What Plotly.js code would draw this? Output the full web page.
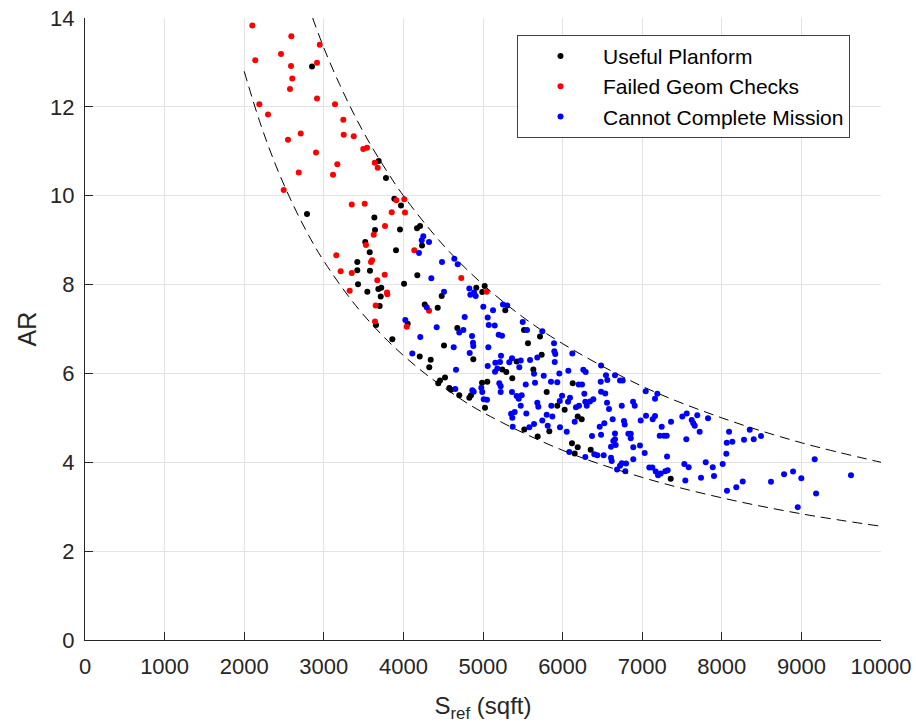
<!DOCTYPE html>
<html>
<head>
<meta charset="utf-8">
<script src="https://cdn.plot.ly/plotly-3.0.1.min.js"></script>
<style>
  html, body { margin: 0; padding: 0; background: #ffffff; }
  #chart { width: 916px; height: 723px; }
</style>
</head>
<body>
<div id="chart"></div>
<script>
// Planform sweep: reference area vs aspect ratio, coloured by outcome.

// Useful planforms
const usefulS = [2852, 3690, 3781, 2789, 3886, 3970, 3635, 3957, 3643, 4171, 4209, 3521, 4234, 3907, 3577,
  3421, 3421, 3580, 4175, 3430, 4008, 3547, 3685, 3722, 3715, 4481, 3702, 4268, 4431, 3656, 4054, 3861,
  4916, 5021, 4991, 5280, 4677, 5515, 5716, 4205, 4343, 4325, 4510, 4878, 5565, 5737, 5243, 5293, 5423,
  5632, 4523, 4460, 4438, 4577, 4598, 4702, 4828, 4849, 4988, 5054, 5025, 5368, 5800, 5519, 6127, 5933,
  6026, 6190, 6240, 5687, 5833, 6118, 6190, 6152, 6353, 7358];
const usefulAR = [12.91, 10.78, 10.40, 9.59, 9.93, 9.78, 9.51, 9.24, 9.23, 9.27, 9.32, 8.96, 8.88, 8.77, 8.73,
  8.51, 8.32, 8.31, 8.21, 8.01, 8.02, 7.84, 7.90, 7.93, 7.73, 7.74, 7.52, 7.55, 7.48, 7.09, 7.12, 6.77,
  7.93, 7.97, 7.83, 7.42, 7.02, 6.98, 6.83, 6.38, 6.31, 6.14, 6.63, 6.32, 6.68, 6.42, 6.09, 6.03, 6.27,
  6.09, 5.91, 5.84, 5.78, 5.67, 5.63, 5.51, 5.45, 5.51, 5.79, 5.81, 5.23, 5.89, 5.58, 4.74, 5.78, 5.27,
  5.18, 5.03, 4.97, 4.58, 4.70, 4.43, 4.34, 4.20, 4.28, 3.63];

// Planforms that failed the geometry checks
const failedS = [2102, 2592, 2949, 2139, 2462, 2588, 2915, 2604, 2575, 2915, 2190, 3141, 2299, 3245, 2710,
  3250, 3376, 2550, 3496, 3543, 2902, 3640, 3677, 3170, 2685, 3116, 2496, 3351, 3514, 3911, 4011, 3853,
  4020, 3769, 3627, 3530, 4137, 3157, 3606, 3593, 3212, 3351, 3765, 3672, 3325, 3794, 3798, 3652, 4322,
  3643, 4042, 4727, 5047];
const failedAR = [13.83, 13.59, 13.40, 13.05, 13.19, 12.92, 12.99, 12.64, 12.40, 12.19, 12.06, 12.06, 11.83, 11.71, 11.40,
  11.37, 11.34, 11.26, 11.05, 11.08, 10.97, 10.74, 10.63, 10.71, 10.52, 10.47, 10.13, 9.80, 9.82, 9.90, 9.92, 9.63,
  9.62, 9.32, 9.12, 8.89, 8.77, 8.66, 8.55, 8.51, 8.30, 8.26, 8.22, 8.10, 7.86, 7.82, 7.78, 7.53, 7.41,
  7.17, 7.05, 8.15, 7.84];

// Planforms that cannot complete the mission
const missionS = [4250, 4230, 4322, 4196, 4485, 4351, 4510, 4293, 4024, 4418, 4212,
  4640, 4682, 4828, 4841, 4887, 4908, 5004, 5126, 5251, 5305, 4770, 5059, 5072, 5147, 5499, 4702, 4753,
  4862, 5197, 5239, 5553, 5745,
  4112, 4632, 4874, 4878, 4833, 5067, 5682, 5226, 5214, 5155, 5059, 5180, 5151, 5364, 5330, 5474, 5456,
  5591, 5641, 5763, 4661, 4652, 4883, 4866, 4979, 4991, 5009, 5050, 5205, 5222, 5222, 5364, 5423, 5449,
  5486, 5537, 5653, 5682, 5695, 5474, 5398, 5352, 5368, 5544, 5800, 5745, 5641, 5582, 5373, 5813,
  5892, 5896, 5908, 5901, 6122, 6483, 6260, 6290, 6072, 5959, 6545, 6562, 6658, 6479, 6721, 6755, 5854,
  5933, 6202, 6244, 6483, 6536, 6273, 5993, 6093, 6068, 5964, 6386, 6344, 6285, 6558, 6303, 6206, 6168,
  5858, 6583, 6743, 6885, 6906, 7044, 7161, 7190, 5871, 6152, 6629, 6524, 6466, 6771, 6780, 6981, 7048,
  7132, 7161, 7245, 7362, 7504, 7559, 7622, 7642, 7692, 7660, 7827, 5967,
  8091, 8351, 8062, 8132, 8279, 8401, 8493, 8057, 8011, 7886, 7902, 8263, 8182, 8065, 8618, 8782, 8895,
  8999, 9167, 9184, 8954, 9623,
  6052, 6369, 6483, 6658, 6826, 6856, 6856, 6658, 6637, 6667, 6608, 6084, 6398, 6436, 6516, 6285, 6608,
  6617, 6888, 6972, 7031, 6888, 6743, 6797, 6721, 6684, 6788, 7220, 7274, 7308, 7554, 7722, 7312, 7089,
  7127, 7170, 7199, 7233, 7290, 7320, 7529, 7584, 7542, 7739, 7798];
const missionAR = [9.09, 9.00, 8.96, 8.71, 8.51, 8.14, 7.84, 7.49, 7.20, 7.04, 6.82,
  8.58, 8.46, 7.91, 7.77, 7.82, 7.74, 7.50, 7.42, 7.55, 7.53, 7.27, 7.26, 7.09, 7.08, 7.16, 6.92, 6.98,
  6.84, 6.87, 6.85, 6.98, 6.95,
  6.45, 6.59, 6.69, 6.62, 6.46, 6.59, 6.36, 6.40, 6.26, 6.24, 6.17, 6.11, 6.04, 6.34, 6.25, 6.29, 6.14,
  6.30, 5.99, 5.95, 6.08, 5.65, 5.59, 5.62, 5.68, 5.58, 5.42, 5.41, 5.78, 5.71, 5.58, 5.58, 5.49, 5.43,
  5.51, 5.75, 5.79, 5.34, 5.25, 5.27, 5.13, 5.09, 5.00, 5.10, 5.07, 4.94, 4.86, 4.79, 4.80, 4.82,
  6.68, 6.50, 6.44, 6.26, 6.45, 6.18, 6.08, 6.03, 6.06, 6.00, 5.96, 5.85, 5.96, 5.81, 5.84, 5.84, 5.81,
  5.80, 5.75, 5.75, 5.59, 5.55, 5.54, 5.50, 5.45, 5.36, 5.38, 5.42, 5.37, 5.36, 5.34, 5.27, 5.27, 5.24,
  5.27, 5.20, 5.27, 5.36, 5.27, 5.60, 5.43, 5.54, 5.03, 4.91, 4.97, 4.88, 4.80, 4.93, 4.85, 4.94, 5.05,
  4.97, 5.04, 4.80, 4.91, 5.03, 5.10, 4.95, 4.88, 5.06, 4.82, 4.99, 4.79,
  4.69, 4.73, 4.44, 4.46, 4.51, 4.52, 4.59, 4.19, 3.96, 3.89, 3.69, 3.57, 3.44, 3.36, 3.56, 3.73, 3.79,
  3.64, 4.07, 3.30, 2.99, 3.71,
  4.69, 4.59, 4.62, 4.65, 4.64, 4.64, 4.54, 4.52, 4.48, 4.39, 4.35, 4.23, 4.18, 4.16, 4.16, 4.12, 4.10,
  4.03, 4.34, 4.38, 4.21, 4.07, 3.98, 3.97, 3.92, 3.84, 3.80, 4.60, 4.60, 4.60, 4.52, 4.69, 4.13, 3.88,
  3.88, 3.79, 3.71, 3.75, 3.80, 3.82, 3.96, 3.89, 3.59, 3.65, 4.00];

// Dashed boundary curves of the design space
const upperBoundS = [2860, 3000, 3200, 3400, 3600, 3800, 4000, 4500, 5000, 5500, 6000, 7000, 8000, 9000, 10000];
const upperBoundAR = [14.0, 13.33, 12.5, 11.76, 11.11, 10.53, 10.0, 8.89, 8.0, 7.27, 6.67, 5.71, 5.0, 4.44, 4.0];
const lowerBoundS = [2000, 2200, 2400, 2600, 2800, 3000, 3400, 3800, 4200, 4600, 5000, 6000, 7000, 8000, 9000, 10000];
const lowerBoundAR = [12.8, 11.64, 10.67, 9.85, 9.14, 8.53, 7.53, 6.74, 6.10, 5.57, 5.12, 4.27, 3.66, 3.2, 2.84, 2.56];

// Axis ticks
const xTicks = [0, 1000, 2000, 3000, 4000, 5000, 6000, 7000, 8000, 9000, 10000];
const yTicks = [0, 2, 4, 6, 8, 10, 12, 14];

const FONT = 'Liberation Sans, Arial, Helvetica, sans-serif';
const AXIS_COLOR = '#262626';

function pointTrace(xs, ys, name, color) {
  return {
    type: 'scatter', mode: 'markers', name: name,
    x: xs, y: ys,
    marker: { color: color, size: 6, line: { width: 0 } },
    hoverinfo: 'x+y+name'
  };
}

function boundTrace(xs, ys) {
  return {
    type: 'scatter', mode: 'lines', x: xs, y: ys,
    line: { color: '#000000', width: 1, dash: '10px,6px', shape: 'spline', smoothing: 1 },
    showlegend: false, hoverinfo: 'skip'
  };
}

const data = [
  pointTrace(usefulS, usefulAR, 'Useful Planform', '#000000'),
  pointTrace(failedS, failedAR, 'Failed Geom Checks', '#ff0000'),
  pointTrace(missionS, missionAR, 'Cannot Complete Mission', '#0000ff'),
  boundTrace(upperBoundS, upperBoundAR),
  boundTrace(lowerBoundS, lowerBoundAR)
];

const axisCommon = {
  showline: true, linecolor: AXIS_COLOR, linewidth: 1, mirror: false,
  ticks: 'inside', ticklen: 8, tickwidth: 1, tickcolor: AXIS_COLOR,
  showgrid: true, gridcolor: '#e3e3e3', gridwidth: 1,
  zeroline: false,
  tickfont: { family: FONT, size: 22, color: AXIS_COLOR }
};

const layout = {
  width: 916, height: 723,
  margin: { l: 85, r: 35, t: 18, b: 83 },
  paper_bgcolor: '#ffffff', plot_bgcolor: '#ffffff',
  font: { family: FONT, color: AXIS_COLOR },
  xaxis: Object.assign({}, axisCommon, {
    range: [0, 10000], tickmode: 'array', tickvals: xTicks, ticktext: xTicks.map(String),
    ticklabelstandoff: 7,
    title: { text: 'S<sub>ref</sub> (sqft)', font: { family: FONT, size: 24, color: AXIS_COLOR }, standoff: 20 }
  }),
  yaxis: Object.assign({}, axisCommon, {
    range: [0, 14], tickmode: 'array', tickvals: yTicks, ticktext: yTicks.map(String),
    ticklabelstandoff: 5,
    title: { text: 'AR', font: { family: FONT, size: 25, color: AXIS_COLOR }, standoff: 6 }
  }),
  legend: {
    x: 0.5427, y: 0.973, xanchor: 'left', yanchor: 'top',
    bgcolor: '#ffffff', bordercolor: '#404040', borderwidth: 1,
    font: { family: FONT, size: 21, color: '#000000' },
    itemwidth: 75,
    entrywidth: 260, entrywidthmode: 'pixels',
    tracegroupgap: 0
  },
  showlegend: true
};

Plotly.newPlot('chart', data, layout, { displayModeBar: false, staticPlot: true });
</script>
</body>
</html>
